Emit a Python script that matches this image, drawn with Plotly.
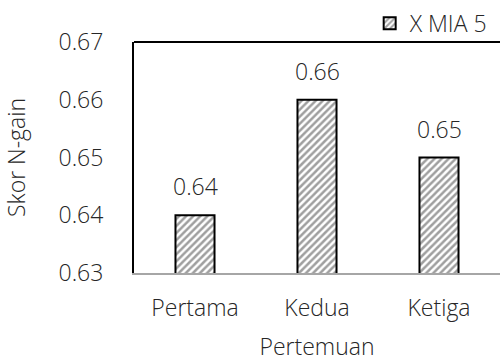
import plotly.graph_objects as go

# Skor N-gain per pertemuan, kelas X MIA 5
pertemuan = ["Pertama", "Kedua", "Ketiga"]
skor = [0.64, 0.66, 0.65]
y_ticks = [0.63, 0.64, 0.65, 0.66, 0.67]
series_name = "X MIA 5"

FONT = "Open Sans"
TXT = "#262626"
FS = 23
base_font = dict(family=FONT, size=FS, color=TXT, weight=300)

fig = go.Figure()
fig.add_trace(go.Bar(
    x=pertemuan,
    y=skor,
    name=series_name,
    showlegend=True,
    marker=dict(
        color="white",
        line=dict(color="black", width=2),
        pattern=dict(shape="/", fgcolor="#404040", bgcolor="white",
                     size=5, solidity=0.5),
    ),
))

# value labels above each bar
for cat, val in zip(pertemuan, skor):
    fig.add_annotation(
        x=cat, y=val, text=f"{val:.2f}", showarrow=False,
        yanchor="bottom", yshift=11,
        font=base_font,
    )

# black frame line across the top of the plot area
fig.add_shape(type="line", xref="paper", yref="paper",
              x0=0, x1=1, y0=1, y1=1,
              line=dict(color="black", width=2))

fig.update_layout(
    width=500, height=362,
    margin=dict(l=134, r=0, t=42, b=89),
    paper_bgcolor="white", plot_bgcolor="white",
    bargap=0.68,
    font=base_font,
    showlegend=True,
    legend=dict(
        x=0.98, y=0.988, xanchor="right", yanchor="bottom",
        orientation="h", itemwidth=30,
        bgcolor="rgba(0,0,0,0)",
        font=base_font,
    ),
    xaxis=dict(
        showline=True, linecolor="#a6a6a6", linewidth=2,
        ticks="", showgrid=False,
        ticklabelstandoff=13,
        title=dict(text="Pertemuan", standoff=19, font=base_font),
        tickfont=base_font,
    ),
    yaxis=dict(
        range=[0.63, 0.67], tickvals=y_ticks,
        ticktext=[f"{v:.2f}" for v in y_ticks],
        showline=True, linecolor="black", linewidth=2,
        showgrid=False, zeroline=False, ticks="",
        ticklabelstandoff=24,
        title=dict(text="Skor N-gain", standoff=26, font=base_font),
        tickfont=base_font,
    ),
)

fig.write_html("out.html")
